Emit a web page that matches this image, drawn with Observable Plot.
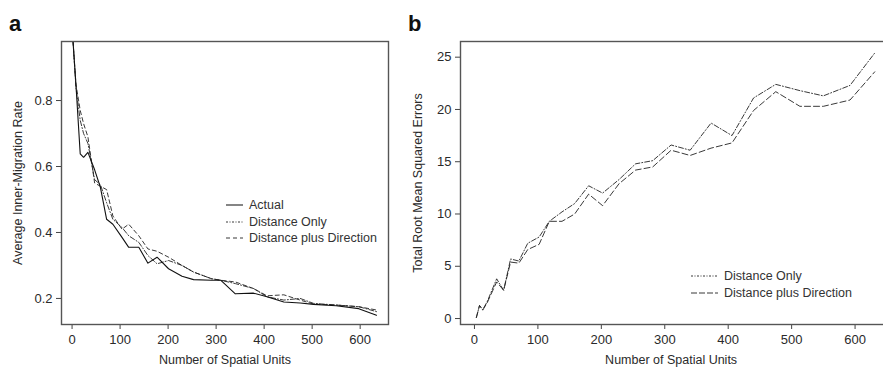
<!DOCTYPE html>
<html>
<head>
<meta charset="utf-8">
<script src="https://cdn.jsdelivr.net/npm/d3@7"></script>
<script src="https://cdn.jsdelivr.net/npm/@observablehq/plot@0.6"></script>
<style>
  html, body { margin: 0; padding: 0; background: #fff; }
  #wrap { position: relative; width: 883px; height: 371px; overflow: hidden; font-family: "Liberation Sans", Arial, sans-serif; color: #333; }
  .panel { position: absolute; top: 0; }
  .letter { position: absolute; font-weight: bold; font-size: 22px; color: #111; }
  .legend { position: absolute; font-size: 12.5px; color: #333; line-height: 16.5px; }
  .legend div { display: flex; align-items: center; white-space: nowrap; }
  .legend svg { margin-right: 6px; }
</style>
</head>
<body>
<div id="wrap"></div>
<script>
// Panel a: average inner-migration rate
const xA = [2, 8, 17, 24, 33, 47, 59, 72, 85, 104, 118, 139, 158, 177, 201, 229, 253, 290, 310, 340, 378, 406, 441, 475, 503, 550, 597, 634];
const actualA = [0.98, 0.85, 0.638, 0.628, 0.643, 0.59, 0.537, 0.44, 0.425, 0.385, 0.355, 0.355, 0.307, 0.325, 0.29, 0.267, 0.257, 0.255, 0.255, 0.214, 0.216, 0.205, 0.189, 0.186, 0.182, 0.178, 0.169, 0.149];
const distOnlyA = [0.98, 0.84, 0.74, 0.7, 0.67, 0.56, 0.545, 0.49, 0.44, 0.415, 0.39, 0.37, 0.33, 0.305, 0.315, 0.3, 0.28, 0.26, 0.255, 0.245, 0.23, 0.205, 0.195, 0.2, 0.185, 0.18, 0.175, 0.16];
const distDirA = [0.98, 0.85, 0.77, 0.73, 0.69, 0.55, 0.54, 0.53, 0.45, 0.41, 0.425, 0.39, 0.35, 0.343, 0.325, 0.3, 0.28, 0.26, 0.255, 0.25, 0.23, 0.208, 0.211, 0.195, 0.183, 0.18, 0.175, 0.165];
const xTicksA = [0, 100, 200, 300, 400, 500, 600];
const yTicksA = [0.2, 0.4, 0.6, 0.8];

// Panel b: total root mean squared errors
const xB = [3, 8, 13, 20, 35, 46, 57, 70, 84, 102, 118, 138, 158, 180, 202, 228, 254, 281, 310, 340, 373, 406, 440, 475, 513, 550, 592, 631];
const distOnlyB = [0.1, 1.25, 0.85, 1.6, 3.8, 2.7, 5.7, 5.5, 7.2, 7.8, 9.3, 10.2, 11.0, 12.7, 12.0, 13.3, 14.8, 15.1, 16.6, 16.1, 18.7, 17.5, 21.1, 22.4, 21.8, 21.3, 22.3, 25.4];
const distDirB = [0.1, 1.25, 0.8, 1.5, 3.5, 2.7, 5.4, 5.3, 6.6, 7.1, 9.3, 9.3, 10.0, 11.9, 10.8, 12.9, 14.2, 14.5, 16.1, 15.6, 16.3, 16.8, 19.9, 21.7, 20.3, 20.3, 20.9, 23.6];
const xTicksB = [0, 100, 200, 300, 400, 500, 600];
const yTicksB = [0, 5, 10, 15, 20, 25];

const seriesLabelsA = ["Actual", "Distance Only", "Distance plus Direction"];
const seriesLabelsB = ["Distance Only", "Distance plus Direction"];
const xTitle = "Number of Spatial Units";
const yTitleA = "Average Inner-Migration Rate";
const yTitleB = "Total Root Mean Squared Errors";

const font = {fontFamily: "'Liberation Sans', Arial, sans-serif", fontSize: "12.5px", color: "#2a2a2a", background: "#fff", overflow: "visible"};
const DASH_DO = "5,2,1,2";
const DASH_DD = "4,3";
const DASH_DD_B = "6,3";

const wrap = document.getElementById("wrap");

const plotA = Plot.plot({
  width: 400, height: 371,
  marginLeft: 61, marginRight: 12, marginTop: 41, marginBottom: 47,
  style: font,
  x: {domain: [-22, 659]},
  y: {domain: [0.121, 0.979]},
  marks: [
    Plot.line(xA, {x: xA, y: distOnlyA, stroke: "#222", strokeWidth: 0.9, strokeDasharray: DASH_DO, clip: true}),
    Plot.line(xA, {x: xA, y: distDirA, stroke: "#222", strokeWidth: 0.9, strokeDasharray: DASH_DD, clip: true}),
    Plot.line(xA, {x: xA, y: actualA, stroke: "#111", strokeWidth: 1.1, clip: true}),
    Plot.axisX(xTicksA, {anchor: "bottom", tickSize: 5, tickPadding: 5, stroke: "#444", fontSize: 13, label: null}),
    Plot.axisY(yTicksA, {anchor: "left", tickSize: 5, tickPadding: 4, stroke: "#444", fontSize: 13,
      tickFormat: d3.format(".1f"), label: null}),
    Plot.text([xTitle], {frameAnchor: "bottom", dy: 39, fontSize: 12.5}),
    Plot.text([yTitleA], {frameAnchor: "left", rotate: -90, dx: -44, textAnchor: "middle", lineAnchor: "middle", fontSize: 12.5}),
    Plot.frame({stroke: "#555", strokeWidth: 1.4})
  ]
});
plotA.classList.add("panel");
plotA.style.left = "0px";
wrap.appendChild(plotA);

const plotB = Plot.plot({
  width: 492, height: 371,
  marginLeft: 60, marginRight: 0, marginTop: 41, marginBottom: 47,
  style: font,
  x: {domain: [-22, 659]},
  y: {domain: [-0.57, 26.5]},
  marks: [
    Plot.line(xB, {x: xB, y: distOnlyB, stroke: "#222", strokeWidth: 0.9, strokeDasharray: DASH_DO, clip: true}),
    Plot.line(xB, {x: xB, y: distDirB, stroke: "#222", strokeWidth: 0.9, strokeDasharray: DASH_DD_B, clip: true}),
    Plot.axisX(xTicksB, {anchor: "bottom", tickSize: 5, tickPadding: 5, stroke: "#444", fontSize: 13, label: null}),
    Plot.axisY(yTicksB, {anchor: "left", tickSize: 5, tickPadding: 4, stroke: "#444", fontSize: 13, label: null}),
    Plot.text([xTitle], {x: 310, frameAnchor: "bottom", dy: 39, fontSize: 12.5}),
    Plot.text([yTitleB], {frameAnchor: "left", rotate: -90, dx: -43, textAnchor: "middle", lineAnchor: "middle", fontSize: 12.5}),
    Plot.frame({stroke: "#555", strokeWidth: 1.4})
  ]
});
plotB.classList.add("panel");
plotB.style.left = "400px";
wrap.appendChild(plotB);

function legend(labels, dashes, widths, left, top, lineLen) {
  const box = document.createElement("div");
  box.className = "legend";
  box.style.left = left + "px";
  box.style.top = top + "px";
  labels.forEach((lab, i) => {
    const row = document.createElement("div");
    const svg = d3.create("svg").attr("width", lineLen).attr("height", 10);
    svg.append("line").attr("x1", 0).attr("x2", lineLen).attr("y1", 5).attr("y2", 5)
      .attr("stroke", "#222").attr("stroke-width", widths[i])
      .attr("stroke-dasharray", dashes[i]);
    row.appendChild(svg.node());
    const span = document.createElement("span");
    span.textContent = lab;
    row.appendChild(span);
    box.appendChild(row);
  });
  wrap.appendChild(box);
}
legend(seriesLabelsA, [null, "2,1.5,1,1.5", "4,3"], [1.1, 0.9, 0.9], 226, 197, 17);
legend(seriesLabelsB, ["2,1.5,1,1.5", "6,2"], [0.9, 0.9], 691, 268, 27);

const la = document.createElement("div");
la.className = "letter"; la.textContent = "a"; la.style.left = "9px"; la.style.top = "11px";
wrap.appendChild(la);
const lb = document.createElement("div");
lb.className = "letter"; lb.textContent = "b"; lb.style.left = "408px"; lb.style.top = "11px";
wrap.appendChild(lb);
</script>
</body>
</html>
